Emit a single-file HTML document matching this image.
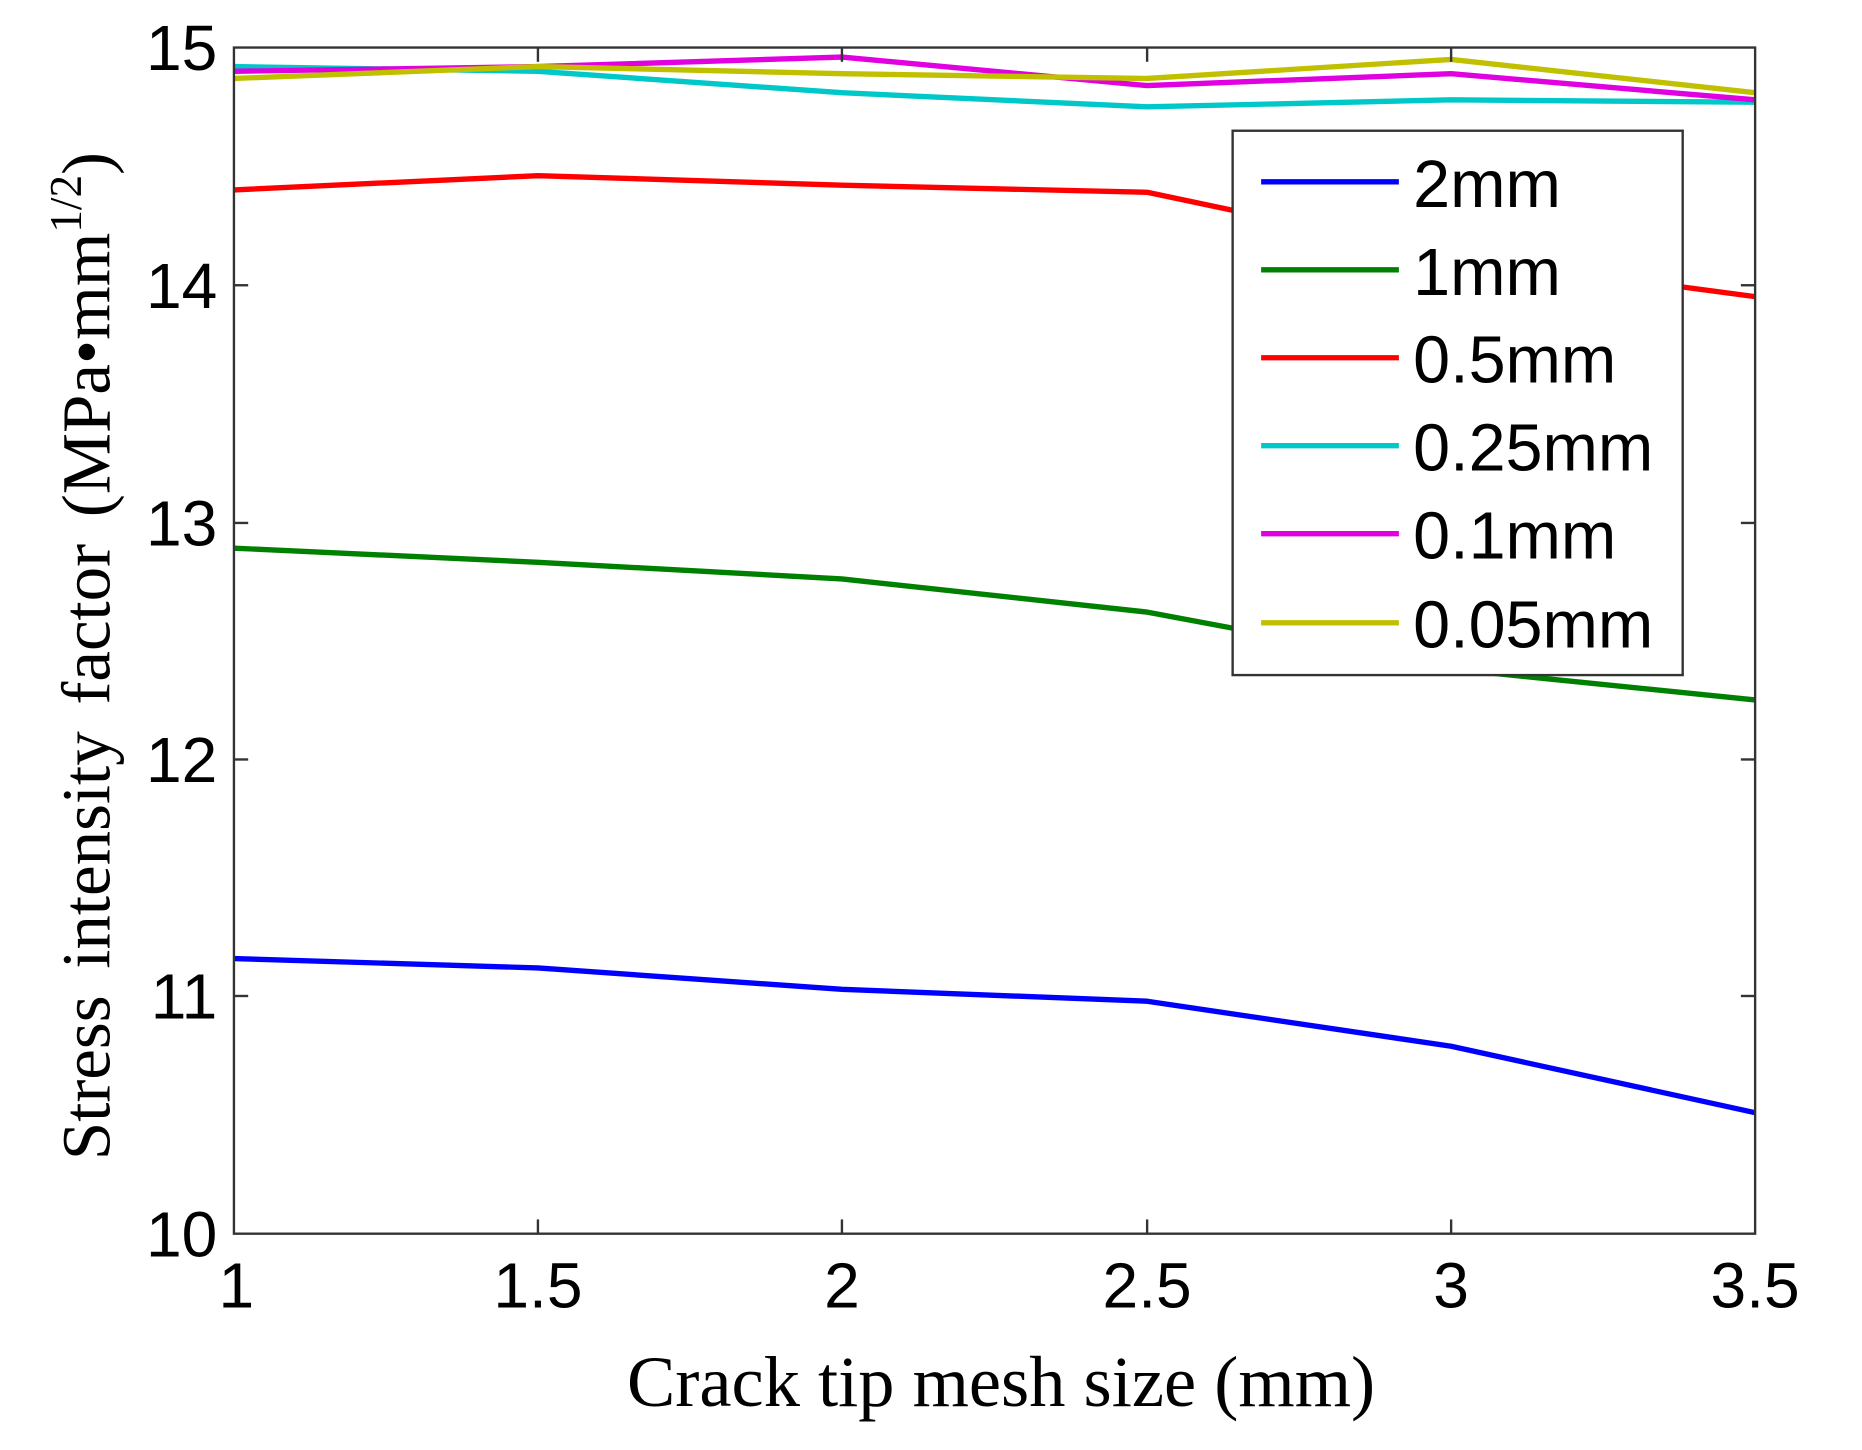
<!DOCTYPE html>
<html><head><meta charset="utf-8"><style>
html,body{margin:0;padding:0;background:#fff;width:1862px;height:1450px;overflow:hidden}
svg{display:block}
.t{font-family:"Liberation Sans",Arial,sans-serif;font-size:54px;fill:#000}
.s{font-family:"Liberation Serif","Times New Roman",serif;fill:#000}
</style></head><body>
<svg width="1862" height="1450" viewBox="0 0 1568 1220" preserveAspectRatio="none" xmlns="http://www.w3.org/2000/svg">
<rect x="0" y="0" width="1568" height="1220" fill="#fff"/>
<g fill="none" stroke-width="4.5" stroke-linejoin="round">
<polyline stroke="#0000ff" points="197,806.5 453,814.4 709,832.4 966,842.4 1222,880.3 1478,936.2"/>
<polyline stroke="#008000" points="197,461.2 453,473.1 709,487.1 966,515 1222,562.9 1478,588.9"/>
<polyline stroke="#ff0000" points="197,159.8 453,147.8 709,155.8 966,161.8 1222,215.6 1478,249.6"/>
<polyline stroke="#00c8c8" points="197,56 453,60 709,78 966,89.9 1222,84 1478,86"/>
<polyline stroke="#e000e0" points="197,60 453,56 709,48 966,72 1222,62 1478,84"/>
<polyline stroke="#c0c000" points="197,66 453,56 709,62 966,66 1222,50 1478,78"/>
</g>
<rect x="197" y="40" width="1281" height="998" fill="none" stroke="#333" stroke-width="2"/>
<g stroke="#333" stroke-width="2">
<line x1="453" y1="1038" x2="453" y2="1026"/><line x1="709" y1="1038" x2="709" y2="1026"/><line x1="966" y1="1038" x2="966" y2="1026"/><line x1="1222" y1="1038" x2="1222" y2="1026"/>
<line x1="453" y1="40" x2="453" y2="52"/><line x1="709" y1="40" x2="709" y2="52"/><line x1="966" y1="40" x2="966" y2="52"/><line x1="1222" y1="40" x2="1222" y2="52"/>
<line x1="197" y1="240" x2="209" y2="240"/><line x1="197" y1="440" x2="209" y2="440"/><line x1="197" y1="639" x2="209" y2="639"/><line x1="197" y1="838" x2="209" y2="838"/>
<line x1="1478" y1="240" x2="1466" y2="240"/><line x1="1478" y1="440" x2="1466" y2="440"/><line x1="1478" y1="639" x2="1466" y2="639"/><line x1="1478" y1="838" x2="1466" y2="838"/>
</g>
<g class="t" text-anchor="end">
<text x="183" y="59">15</text><text x="183" y="259">14</text><text x="183" y="459">13</text><text x="183" y="658">12</text><text x="183" y="857">11</text><text x="183" y="1057">10</text>
</g>
<g class="t" text-anchor="middle">
<text x="199" y="1100">1</text><text x="453" y="1100">1.5</text><text x="709" y="1100">2</text><text x="966" y="1100">2.5</text><text x="1222" y="1100">3</text><text x="1478" y="1100">3.5</text>
</g>
<text class="s" x="843" y="1183" font-size="61" text-anchor="middle">Crack tip mesh size (mm)</text>
<text class="s" transform="translate(92,552) rotate(-90)" font-size="58" text-anchor="middle" word-spacing="8">Stress intensity factor (MPa•mm<tspan font-size="38" dy="-24">1/2</tspan><tspan dy="24">)</tspan></text>
<rect x="1038" y="110" width="379" height="458" fill="#fff" stroke="#333" stroke-width="2"/>
<g stroke-width="4.5">
<line x1="1062" y1="153" x2="1178" y2="153" stroke="#0000ff"/>
<line x1="1062" y1="227" x2="1178" y2="227" stroke="#008000"/>
<line x1="1062" y1="301" x2="1178" y2="301" stroke="#ff0000"/>
<line x1="1062" y1="375" x2="1178" y2="375" stroke="#00c8c8"/>
<line x1="1062" y1="449" x2="1178" y2="449" stroke="#e000e0"/>
<line x1="1062" y1="524" x2="1178" y2="524" stroke="#c0c000"/>
</g>
<g class="t">
<text x="1190" y="174" style="font-size:56px">2mm</text>
<text x="1190" y="248" style="font-size:56px">1mm</text>
<text x="1190" y="322" style="font-size:56px">0.5mm</text>
<text x="1190" y="396" style="font-size:56px">0.25mm</text>
<text x="1190" y="470" style="font-size:56px">0.1mm</text>
<text x="1190" y="545" style="font-size:56px">0.05mm</text>
</g>
</svg>
</body></html>
